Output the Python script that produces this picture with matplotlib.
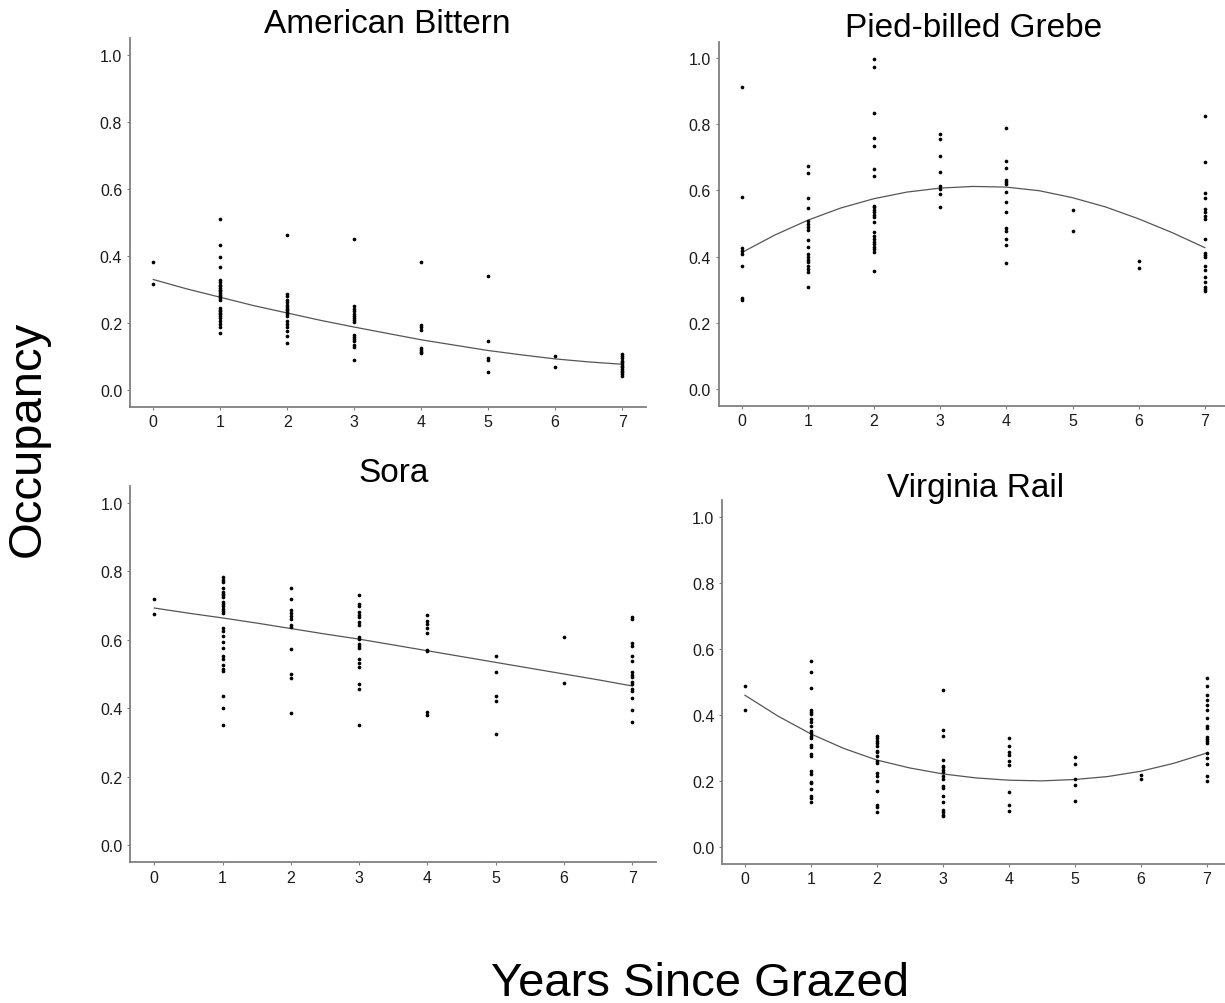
import matplotlib
matplotlib.use("Agg")

import matplotlib.pyplot as plt

plt.rcParams["font.family"] = ["Liberation Sans", "DejaVu Sans"]

years = [0, 1, 2, 3, 4, 5, 6, 7]
curve_x = [0, 0.5, 1, 1.5, 2, 2.5, 3, 3.5, 4, 4.5, 5, 5.5, 6, 6.5, 7]

# occupancy estimates per site, grouped by years since grazed
bittern_pts = [
    [0.381, 0.318],
    [0.511, 0.432, 0.396, 0.367, 0.329, 0.322, 0.315, 0.31, 0.305, 0.30, 0.295, 0.29, 0.285, 0.28,
     0.275, 0.27, 0.246, 0.24, 0.235, 0.23, 0.226, 0.221, 0.216, 0.206, 0.197, 0.187, 0.170],
    [0.462, 0.287, 0.28, 0.27, 0.262, 0.255, 0.248, 0.243, 0.238, 0.232, 0.226, 0.22, 0.206, 0.196,
     0.187, 0.177, 0.162, 0.14],
    [0.452, 0.25, 0.243, 0.236, 0.228, 0.222, 0.216, 0.21, 0.203, 0.165, 0.158, 0.152, 0.145, 0.135,
     0.128, 0.09],
    [0.383, 0.193, 0.187, 0.18, 0.126, 0.12, 0.115, 0.11],
    [0.34, 0.147, 0.096, 0.09, 0.053],
    [0.102, 0.069],
    [0.108, 0.102, 0.095, 0.088, 0.083, 0.078, 0.073, 0.068, 0.063, 0.058, 0.053, 0.047, 0.042],
]
bittern_curve = [0.33, 0.302, 0.277, 0.252, 0.23, 0.208, 0.188, 0.169, 0.150, 0.134, 0.118,
                 0.105, 0.093, 0.084, 0.077]

grebe_pts = [
    [0.914, 0.579, 0.425, 0.418, 0.408, 0.373, 0.275, 0.27],
    [0.675, 0.653, 0.577, 0.546, 0.509, 0.499, 0.489, 0.481, 0.45, 0.428, 0.408, 0.398, 0.391, 0.383,
     0.373, 0.363, 0.352, 0.307],
    [0.997, 0.972, 0.834, 0.759, 0.735, 0.665, 0.645, 0.554, 0.549, 0.542, 0.534, 0.526, 0.519, 0.506,
     0.475, 0.463, 0.453, 0.445, 0.438, 0.43, 0.423, 0.415, 0.355],
    [0.77, 0.755, 0.705, 0.655, 0.614, 0.604, 0.589, 0.549],
    [0.79, 0.688, 0.667, 0.632, 0.625, 0.618, 0.594, 0.566, 0.536, 0.486, 0.478, 0.453, 0.435, 0.38],
    [0.541, 0.478],
    [0.386, 0.365],
    [0.826, 0.685, 0.591, 0.576, 0.544, 0.534, 0.524, 0.514, 0.453, 0.41, 0.404, 0.398, 0.373, 0.358,
     0.337, 0.322, 0.309, 0.302, 0.295],
]
grebe_curve = [0.412, 0.465, 0.51, 0.547, 0.575, 0.595, 0.607, 0.612, 0.61, 0.599, 0.578,
               0.55, 0.514, 0.473, 0.427]

sora_pts = [
    [0.718, 0.676],
    [0.783, 0.776, 0.769, 0.752, 0.74, 0.735, 0.73, 0.725, 0.712, 0.705, 0.698, 0.69, 0.683, 0.678,
     0.634, 0.627, 0.611, 0.593, 0.576, 0.552, 0.544, 0.527, 0.515, 0.51, 0.437, 0.401, 0.351],
    [0.751, 0.718, 0.686, 0.679, 0.671, 0.661, 0.644, 0.637, 0.572, 0.5, 0.489, 0.386],
    [0.732, 0.705, 0.699, 0.681, 0.673, 0.666, 0.652, 0.644, 0.608, 0.603, 0.588, 0.581, 0.576, 0.544,
     0.533, 0.52, 0.471, 0.457, 0.351],
    [0.674, 0.654, 0.647, 0.634, 0.62, 0.571, 0.566, 0.388, 0.381],
    [0.554, 0.505, 0.437, 0.42, 0.325],
    [0.607, 0.474],
    [0.667, 0.662, 0.591, 0.583, 0.554, 0.538, 0.505, 0.498, 0.491, 0.478, 0.471, 0.457, 0.45, 0.429,
     0.396, 0.361],
]
sora_curve = [0.693, 0.678, 0.664, 0.649, 0.633, 0.617, 0.602, 0.585, 0.568, 0.551, 0.534,
              0.517, 0.5, 0.483, 0.465]

rail_pts = [
    [0.487, 0.416],
    [0.563, 0.529, 0.481, 0.415, 0.41, 0.403, 0.388, 0.378, 0.366, 0.352, 0.345, 0.338, 0.331, 0.309,
     0.302, 0.282, 0.275, 0.232, 0.222, 0.199, 0.195, 0.176, 0.154, 0.148, 0.136],
    [0.338, 0.331, 0.323, 0.316, 0.305, 0.292, 0.287, 0.277, 0.262, 0.255, 0.224, 0.217, 0.2, 0.171,
     0.128, 0.121, 0.108],
    [0.477, 0.356, 0.336, 0.265, 0.247, 0.242, 0.235, 0.227, 0.217, 0.207, 0.186, 0.178, 0.156, 0.136,
     0.113, 0.106, 0.099, 0.094],
    [0.331, 0.305, 0.287, 0.279, 0.26, 0.25, 0.166, 0.129, 0.111],
    [0.272, 0.253, 0.207, 0.189, 0.141],
    [0.219, 0.207],
    [0.511, 0.489, 0.462, 0.445, 0.432, 0.415, 0.39, 0.366, 0.36, 0.333, 0.328, 0.321, 0.315, 0.284,
     0.27, 0.251, 0.215, 0.2],
]
rail_curve = [0.46, 0.397, 0.343, 0.299, 0.264, 0.24, 0.222, 0.21, 0.203, 0.201, 0.205,
              0.214, 0.23, 0.254, 0.285]

W, H = 1225, 1004

# panel boxes in pixels: left, right, top, bottom ; title baseline y
panels = [
    ("American Bittern", bittern_pts, bittern_curve, (129.8, 645.6, 39.3, 407.8), 33),
    ("Pied-billed Grebe", grebe_pts, grebe_curve, (718.5, 1228.0, 42.5, 406.5), 37),
    ("Sora", sora_pts, sora_curve, (130.4, 656.2, 487.0, 863.0), 482),
    ("Virginia Rail", rail_pts, rail_curve, (721.9, 1229.6, 501.3, 864.8), 497),
]

fig = plt.figure(figsize=(W / 100, H / 100), dpi=100)

for name, pts, curve, (l, r, t, b), ty in panels:
    ax = fig.add_axes([l / W, 1 - b / H, (r - l) / W, (b - t) / H])
    xs, ys = [], []
    for yr, vals in zip(years, pts):
        xs += [yr] * len(vals)
        ys += vals
    ax.scatter(xs, ys, s=7, color="black", linewidths=0, zorder=3)
    ax.plot(curve_x, curve, color="#555555", linewidth=0.9, zorder=2)

    ax.set_xlim(-0.35, 7.35)
    ax.set_ylim(-0.05, 1.05)
    ax.set_xticks(years)
    ax.set_yticks([0.0, 0.2, 0.4, 0.6, 0.8, 1.0])
    ax.set_yticklabels(["0.0", "0.2", "0.4", "0.6", "0.8", "1.0"])
    for s in ["top", "right"]:
        ax.spines[s].set_visible(False)
    for s in ["left", "bottom"]:
        ax.spines[s].set_color("#808080")
        ax.spines[s].set_linewidth(1.3)
    ax.tick_params(length=2.5, width=0.8, color="#808080", labelsize=11.5,
                   labelcolor="#1a1a1a", pad=3)

    fig.text(((l + r) / 2) / W, 1 - ty / H, name, fontsize=24, ha="center", va="baseline")

fig.text(28 / W, 1 - 439 / H, "Occupancy", fontsize=34, rotation=90, ha="center", va="center")
fig.text(700 / W, 1 - 996 / H, "Years Since Grazed", fontsize=34, ha="center", va="baseline")

plt.savefig("out.png", dpi=100)
plt.close()
